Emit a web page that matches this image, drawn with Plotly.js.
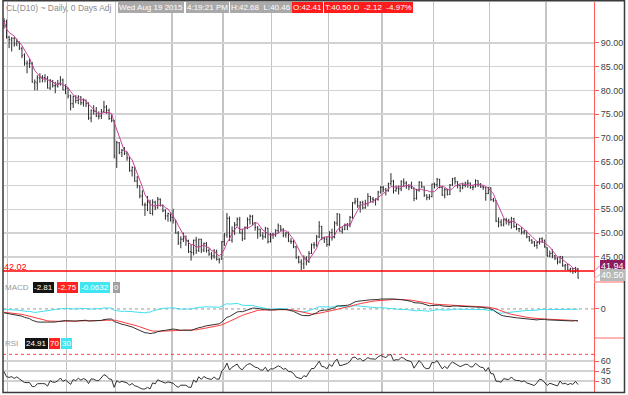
<!DOCTYPE html>
<html><head><meta charset="utf-8">
<script src="https://cdn.plot.ly/plotly-3.0.1.min.js"></script>
<style>html,body{margin:0;padding:0;background:#fff}#c{width:628px;height:395px}</style>
</head><body><div id="c"></div>
<script>
// Trading days Sep 29 2014 .. Aug 19 2015 (index on x axis)
const monthStartIdx = [2, 25, 44, 66, 86, 105, 127, 148, 168, 190, 212];
const priceTicks = [45, 50, 55, 60, 65, 70, 75, 80, 85, 90];
const macdTicks = [0];
const rsiTicks = [30, 45, 60];
const lastPriceLine = 42.02;

const open = [
93.6,94.5,
91.2,90.6,91.0,89.8,90.1,88.8,87.5,85.6,85.6,85.6,81.5,81.6,82.6,82.8,82.7,82.5,80.5,82.0,81.0,81.0,81.5,82.2,80.1,
80.5,78.9,77.2,78.7,77.9,78.6,77.4,77.9,77.2,74.2,75.8,75.6,74.6,74.6,75.6,76.5,75.8,74.1,73.6,
65.8,69.0,66.9,67.4,66.8,65.8,63.1,63.8,60.9,59.9,57.8,55.9,55.9,56.5,54.1,56.5,55.3,57.1,55.8,54.7,53.6,54.0,
53.3,52.7,50.0,47.9,48.7,48.8,48.4,46.1,45.9,48.5,46.3,48.7,46.4,47.8,46.3,45.6,45.2,46.2,44.5,44.5,
48.2,49.6,53.1,48.5,50.5,51.7,52.9,50.0,48.8,51.2,52.8,53.5,52.1,51.2,50.8,49.5,49.2,51.0,48.2,
49.8,49.6,50.5,51.5,50.8,49.6,50.0,48.3,48.2,47.1,44.8,43.9,43.5,44.7,44.0,45.7,47.5,47.5,49.2,51.4,48.9,48.7,
47.6,50.1,49.1,52.1,54.0,50.4,50.8,51.6,51.9,53.3,56.4,56.7,55.7,56.4,55.3,56.2,57.7,57.2,57.0,57.1,58.6,
59.6,59.2,58.9,60.4,60.9,58.9,59.4,59.3,60.8,60.5,59.9,59.7,59.4,57.3,59.0,60.7,59.7,58.0,57.5,57.7,
60.3,60.2,61.3,59.6,58.0,59.1,58.1,60.1,61.4,60.8,60.0,59.5,60.0,60.5,60.5,59.6,59.7,61.0,60.3,59.7,59.6,58.3,
59.5,57.0,56.9,52.5,52.3,51.7,52.8,52.7,52.2,53.0,51.4,50.9,50.9,50.2,50.4,49.2,48.5,48.1,47.4,48.0,48.8,48.5,
46.9,45.2,45.7,45.2,44.7,43.9,45.0,43.1,43.3,42.2,42.5,41.9,42.41
];
const high = [
95.2,94.9,
91.5,91.2,91.2,90.9,90.3,89.2,87.8,86.3,86.7,86.0,82.3,83.2,83.6,83.2,83.4,83.0,82.4,82.2,81.8,82.2,83.0,82.5,81.3,
80.6,79.1,78.9,79.0,79.0,78.8,78.3,78.1,77.5,76.0,76.9,76.5,75.6,76.1,77.8,76.9,76.2,74.9,73.8,
69.4,69.1,67.7,68.1,67.0,66.1,64.0,64.0,62.0,60.0,59.0,56.4,57.8,57.0,57.1,56.8,57.6,57.3,56.0,55.0,54.3,54.1,
55.1,52.7,50.4,49.3,50.1,49.5,48.6,47.5,48.6,49.2,48.8,48.8,48.0,48.1,46.8,46.0,46.6,46.5,44.7,48.3,
50.0,54.2,53.5,51.4,52.3,53.3,53.4,50.8,51.4,53.3,53.9,53.8,52.3,51.5,50.9,50.2,51.3,51.1,50.0,
50.0,50.8,52.0,51.6,51.0,50.2,50.3,48.9,48.6,47.3,45.2,44.5,45.3,45.1,46.2,47.8,48.1,49.6,52.5,51.5,49.2,49.3,
50.4,50.9,52.5,54.2,54.0,51.4,52.0,52.1,53.6,56.5,57.4,57.4,56.7,56.8,57.0,58.4,57.8,57.6,57.3,58.9,59.9,
59.9,59.5,60.6,62.6,61.2,60.0,60.0,61.1,61.5,60.9,60.3,60.8,59.6,59.3,60.9,60.8,59.8,58.1,58.2,60.4,
60.6,61.6,61.4,59.9,59.5,59.3,60.3,61.6,61.8,60.9,60.2,60.6,60.8,61.2,60.6,60.1,61.3,61.1,60.5,60.0,59.7,59.7,
59.6,57.4,56.9,53.3,52.9,53.1,53.2,53.0,53.4,53.2,51.9,51.1,51.2,50.6,50.5,49.4,48.7,48.3,48.2,49.0,49.1,48.6,
47.0,46.3,46.6,45.4,44.9,45.2,45.1,43.5,43.6,42.7,42.6,42.9,42.68
];
const low = [
93.0,90.9,
88.9,88.2,89.2,89.3,88.5,86.8,85.2,83.6,84.7,81.6,80.0,80.0,81.6,81.7,81.7,80.4,80.1,80.6,79.4,80.6,81.0,80.1,79.2,
78.3,75.8,76.3,77.3,77.1,76.9,76.6,76.5,73.8,73.3,74.9,74.4,73.9,74.0,75.3,75.1,73.8,73.3,65.7,
63.7,66.6,66.0,66.4,65.2,62.9,61.9,60.8,59.4,57.3,55.8,53.6,54.6,54.0,53.7,54.8,55.1,55.6,54.4,52.8,52.4,52.4,
52.0,49.9,47.5,46.8,48.1,47.3,45.8,44.2,45.3,45.6,46.0,45.8,46.0,45.9,45.2,44.4,44.6,44.2,43.6,44.4,
47.3,49.0,48.4,48.0,49.6,51.4,49.9,48.3,48.6,50.8,51.8,51.6,50.5,48.8,49.2,48.6,48.9,47.8,48.0,
48.8,49.2,50.0,50.3,49.1,49.0,48.1,47.7,46.8,44.6,43.6,42.2,42.4,43.2,43.7,45.6,46.7,47.1,48.9,48.5,47.9,47.1,
47.3,48.4,48.9,51.5,50.3,49.9,50.6,50.6,51.2,53.0,56.0,55.3,54.3,55.0,55.1,55.6,56.5,56.3,55.8,56.8,58.3,
58.6,57.9,58.7,60.0,58.3,58.7,58.1,58.8,59.7,59.3,59.0,59.3,56.7,57.0,58.7,59.5,57.6,56.9,57.0,57.5,
59.4,59.6,59.4,57.8,57.3,57.9,58.0,59.9,60.2,59.4,58.6,59.2,59.6,59.5,59.3,59.0,59.6,59.7,59.5,59.1,56.8,58.2,
56.8,56.5,52.3,51.2,51.4,51.4,51.8,51.6,50.9,51.1,50.6,50.2,49.7,49.7,48.9,48.2,47.7,47.1,46.7,47.6,47.9,46.9,
45.0,44.9,44.7,44.3,43.4,43.6,42.9,42.2,42.2,41.7,41.4,41.6,40.46
];
const close = [
94.6,91.2,
90.7,91.0,89.7,90.3,88.9,87.3,85.8,85.8,85.7,81.8,81.8,82.7,82.8,82.7,82.5,80.5,82.1,81.0,81.0,81.4,82.2,80.1,80.5,
78.8,77.2,78.7,77.9,78.7,77.4,77.9,77.2,74.2,75.8,75.6,74.6,74.6,75.6,76.5,75.8,74.1,73.7,66.2,
69.0,66.9,67.4,66.8,65.8,63.1,63.8,60.9,60.0,57.8,55.9,55.9,56.5,54.1,56.5,55.3,57.1,55.8,54.7,53.6,54.1,53.3,
52.7,50.0,47.9,48.7,48.8,48.4,46.1,45.9,48.5,46.3,48.7,46.4,47.8,46.3,45.6,45.2,46.2,44.5,44.5,48.2,
49.6,53.1,48.5,50.5,51.7,52.9,50.0,48.8,51.2,52.8,53.5,52.1,51.2,50.8,49.5,49.2,51.0,48.2,49.8,
49.6,50.5,51.5,50.8,49.6,50.0,48.3,48.2,47.1,44.8,43.9,43.5,44.7,44.0,45.7,47.5,47.5,49.2,51.4,48.9,48.7,47.6,
50.1,49.1,52.1,54.0,50.4,50.8,51.6,51.9,53.3,56.4,56.7,55.7,56.4,55.3,56.2,57.7,57.2,57.0,57.1,58.6,59.6,
59.2,58.9,60.4,60.9,58.9,59.4,59.3,60.8,60.5,59.9,59.7,59.4,57.3,59.0,60.7,59.7,58.0,57.5,57.7,60.3,
60.2,61.3,59.6,58.0,59.1,58.1,60.1,61.4,60.8,60.0,59.5,60.0,60.5,60.5,59.6,59.7,61.0,60.3,59.7,59.6,58.3,59.5,
57.0,56.9,52.5,52.3,51.7,52.8,52.7,52.2,53.0,51.4,50.9,50.9,50.2,50.4,49.2,48.5,48.1,47.4,48.0,48.8,48.5,47.1,
45.2,45.7,45.2,44.7,43.9,45.0,43.1,43.3,42.2,42.5,41.9,42.6,40.50
];
// indicator warm-up state before the first visible bar
const ema12Seed = 93.2, ema26Seed = 94.3, signalSeed = -0.75;
const rsiGainSeed = 0.55, rsiLossSeed = 0.7;

// ---- indicators derived from the closes ----
const idx = close.map((_, i) => i);
const sma5 = close.map((_, i) => { const s = close.slice(Math.max(0, i - 4), i + 1); return s.reduce((a, b) => a + b, 0) / s.length; });
function ema(arr, n, seed) { const k = 2 / (n + 1); let p = seed; return arr.map(v => (p = p + k * (v - p))); }
const e12 = ema(close, 12, ema12Seed), e26 = ema(close, 26, ema26Seed);
const macd = e12.map((v, i) => v - e26[i]);
const signal = ema(macd, 9, signalSeed);
const hist = macd.map((v, i) => v - signal[i]);
let ag = rsiGainSeed, al = rsiLossSeed;
const rsi = close.map((c, i) => {
  if (i > 0) { const d = c - close[i - 1]; ag = (ag * 13 + Math.max(d, 0)) / 14; al = (al * 13 + Math.max(-d, 0)) / 14; }
  return 100 - 100 / (1 + ag / al);
});

// ---- layout geometry (pixels -> paper) ----
const PL = 3, PR = 594, PT = 2, PB = 392;
const px = p => (p - PL) / (PR - PL);
const py = p => (PB - p) / (PB - PT);
const FONT = 'Liberation Sans, Arial, sans-serif';

const traces = [
  { type: 'ohlc', x: idx, open: open, high: high, low: low, close: close, xaxis: 'x', yaxis: 'y',
    increasing: { line: { color: '#2a2a2a', width: 1 } }, decreasing: { line: { color: '#2a2a2a', width: 1 } },
    tickwidth: 0.35, hoverinfo: 'skip' },
  { type: 'scatter', mode: 'lines', x: idx, y: sma5, xaxis: 'x', yaxis: 'y', line: { color: '#c8409a', width: 1 }, hoverinfo: 'skip' },
  { type: 'scatter', mode: 'lines', x: idx, y: hist, xaxis: 'x', yaxis: 'y2', line: { color: '#40e0f0', width: 1 }, hoverinfo: 'skip' },
  { type: 'scatter', mode: 'lines', x: idx, y: signal, xaxis: 'x', yaxis: 'y2', line: { color: '#ff3b3b', width: 1 }, hoverinfo: 'skip' },
  { type: 'scatter', mode: 'lines', x: idx, y: macd, xaxis: 'x', yaxis: 'y2', line: { color: '#303030', width: 1 }, hoverinfo: 'skip' },
  { type: 'scatter', mode: 'lines', x: idx, y: rsi, xaxis: 'x', yaxis: 'y3', line: { color: '#303030', width: 1 }, hoverinfo: 'skip' }
];

const yBase = { side: 'right', anchor: 'x', showline: true, linecolor: '#ff5a5a', linewidth: 1,
  ticks: 'outside', ticklen: 4, tickcolor: '#ff5a5a', zeroline: false, fixedrange: true,
  tickfont: { family: FONT, size: 9, color: '#404040' }, gridcolor: '#d2d2d2', gridwidth: 1.5 };

const gridX = monthStartIdx.map(v => v - 0.5);

const shapes = [
  { type: 'line', xref: 'paper', yref: 'y', x0: 0, x1: 1, y0: lastPriceLine, y1: lastPriceLine, line: { color: '#ff0000', width: 1.5 } },
  { type: 'line', xref: 'paper', yref: 'y2', x0: 0, x1: 1, y0: 0, y1: 0, line: { color: '#9a9a9a', width: 1, dash: 'dot' }, layer: 'below' },
  { type: 'line', xref: 'paper', yref: 'y3', x0: 0, x1: 1, y0: 70, y1: 70, line: { color: '#ff4040', width: 1, dash: 'dot' } },
  { type: 'line', xref: 'paper', yref: 'y3', x0: 0, x1: 1, y0: 30, y1: 30, line: { color: '#60e8f0', width: 1.2 }, layer: 'below' },
  { type: 'line', xref: 'paper', yref: 'paper', x0: 1, x1: px(624), y0: py(282), y1: py(282), line: { color: '#ff9a9a', width: 1.5 } },
  { type: 'line', xref: 'paper', yref: 'paper', x0: 1, x1: px(624), y0: py(338), y1: py(338), line: { color: '#ff6a6a', width: 1 } },
  { type: 'line', xref: 'paper', yref: 'paper', x0: 1, x1: px(600), y0: py(271.5), y1: py(265.5), line: { color: '#d070b0', width: 1 } },
  { type: 'line', xref: 'paper', yref: 'paper', x0: 1, x1: px(600), y0: py(279), y1: py(274.5), line: { color: '#c0c0c0', width: 1 } },
  { type: 'rect', xref: 'paper', yref: 'paper', x0: px(3), x1: px(624.5), y0: py(392.5), y1: py(0.8), line: { color: '#3a3a3a', width: 1.5 }, layer: 'above' }
];

function box(text, x, y, bg, color, size) {
  return { xref: 'paper', yref: 'paper', x: px(x), y: py(y), xanchor: 'left', yanchor: 'middle', showarrow: false,
    text: text, bgcolor: bg || 'rgba(0,0,0,0)', borderpad: 1, borderwidth: 0,
    font: { family: FONT, size: size || 8, color: color || '#ffffff' } };
}
const NB = '\u00a0';
const annotations = [
  box('CL(D10) ~ Daily, 0 Days Adj', 5, 8, null, '#8c8c8c', 8.5),
  box('Wed Aug 19 2015', 118, 8, '#a9a9a9'),
  box('4:19:21 PM', 186, 8, '#a9a9a9'),
  box('H:42.68' + NB + NB + 'L:40.46', 230, 8, '#a9a9a9'),
  box('O:42.41', 292, 8, '#ff1c1c'),
  box('T:40.50' + NB + 'D' + NB + NB + '-2.12' + NB + NB + '-4.97%', 324, 8, '#ff1c1c'),
  box('42.02', 3, 266.5, null, '#ff0000', 9),
  box('41.94', 600, 265.5, '#8e1a60', '#ffffff', 9),
  box('40.50', 600, 274.5, '#b8b8b8', '#ffffff', 9),
  box('MACD', 4, 287.5, null, '#9a9a9a'),
  box('-2.81', 33, 287.5, '#141414'),
  box('-2.75', 57, 287.5, '#ff2020'),
  box('-0.0632', 80, 287.5, '#3fe6f2'),
  box('0', 113, 287.5, '#a0a0a0'),
  box('RSI', 4, 343.5, null, '#9a9a9a'),
  box('24.91', 25, 343.5, '#141414'),
  box('70', 49, 343.5, '#ff2020'),
  box('30', 61, 343.5, '#3fe6f2')
];

const layout = {
  width: 628, height: 395, autosize: false,
  margin: { l: PL, r: 628 - PR, t: PT, b: 395 - PB, pad: 0 },
  paper_bgcolor: '#ffffff', plot_bgcolor: '#ffffff', showlegend: false,
  xaxis: { range: [-0.39, 230.24], tickmode: 'array', tickvals: gridX, showticklabels: false, ticks: '',
    showgrid: true, gridcolor: '#c4c4c4', gridwidth: 1.3, zeroline: false, showline: false,
    rangeslider: { visible: false }, anchor: 'y3', fixedrange: true },
  yaxis: Object.assign({}, yBase, { domain: [py(282), 1], range: [39.7, 98.6], tickmode: 'array', tickvals: priceTicks, tickformat: '.2f' }),
  yaxis2: Object.assign({}, yBase, { domain: [py(338), py(282)], range: [-6.8, 6.3], tickmode: 'array', tickvals: macdTicks, showgrid: false }),
  yaxis3: Object.assign({}, yBase, { domain: [0, py(338)], range: [13.5, 94.5], tickmode: 'array', tickvals: rsiTicks }),
  shapes: shapes, annotations: annotations
};

Plotly.newPlot('c', traces, layout, { staticPlot: true, displayModeBar: false });
</script>
</body></html>
